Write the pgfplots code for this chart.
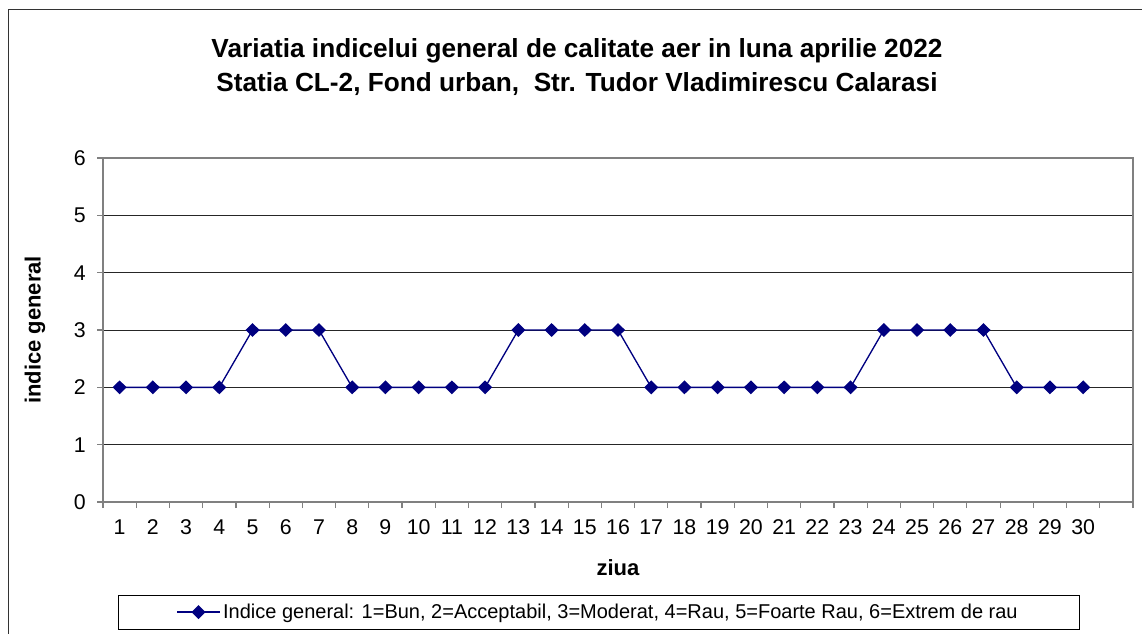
\documentclass[border=0pt]{standalone}
\usepackage{fontspec}
\setmainfont{Liberation Sans}
\usepackage{pgfplots}
\pgfplotsset{compat=1.18}
\definecolor{navyline}{HTML}{000080}
\definecolor{frameg}{HTML}{808080}

\begin{document}
\begin{tikzpicture}[x=0.75pt,y=-0.75pt]
% page = reference canvas, in px
\path[use as bounding box] (0,0) rectangle (1142,634);
\draw[black!80, line width=0.75pt] (1160,10) -- (8,10) -- (8,650);
\coordinate (orig) at (103,502);

\node[font=\bfseries\fontsize{19.65}{25}\selectfont, align=center] at (577,67)
  {Variatia indicelui general de calitate aer in luna aprilie 2022\\
   Statia CL-2, Fond urban,\ \ Str. Tudor Vladimirescu Calarasi};

\begin{axis}[
    at={(orig)}, anchor=south west,
    scale only axis,
    width=772.5pt, height=258pt,
    xmin=0.5, xmax=31.5,
    ymin=0, ymax=6,
    xtick={1,...,30},
    minor xtick={0.5,1.5,...,31.5},
    ytick={0,1,...,6},
    tick pos=left,
    major x tick style={draw=none},
    tick align=outside,
    major tick length=4.5pt,
    minor tick length=4.5pt,
    every tick/.style={frameg, line width=0.9pt},
    axis line style={frameg, line width=1.2pt},
    ymajorgrids=true,
    major grid style={black!85, line width=0.7pt},
    tick label style={font=\fontsize{16}{19}\selectfont},
    /pgf/number format/assume math mode=true,
    xticklabel style={yshift=-5pt},
    yticklabel style={xshift=-5pt},
    xlabel={ziua},
    ylabel={indice general},
    label style={font=\bfseries\fontsize{16.5}{19}\selectfont},
    xlabel style={at={(axis description cs:0.5,-0.192)}, anchor=center},
    ylabel style={at={(axis description cs:-0.066,0.5)}, anchor=center},
    legend style={at={(0.481,-0.320)}, anchor=center, draw=black,
        font=\fontsize{15}{18}\selectfont, inner xsep=44pt, inner ysep=4.5pt},
    legend image code/.code={
        \draw[#1, mark=none] (0pt,0pt) -- (32pt,0pt);
        \draw[#1, only marks] plot coordinates {(16pt,0pt)};
    },
    clip=false,
]
\addplot[navyline, line width=1pt, mark=diamond*,
         mark size=4.5pt, mark options={xscale=1.35, fill=navyline}]
  coordinates {
    (1,2) (2,2) (3,2) (4,2) (5,3) (6,3) (7,3) (8,2) (9,2) (10,2)
    (11,2) (12,2) (13,3) (14,3) (15,3) (16,3) (17,2) (18,2) (19,2) (20,2)
    (21,2) (22,2) (23,2) (24,3) (25,3) (26,3) (27,3) (28,2) (29,2) (30,2)
  };
\addlegendentry{Indice general: 1=Bun, 2=Acceptabil, 3=Moderat, 4=Rau, 5=Foarte Rau, 6=Extrem de rau}
\end{axis}
\end{tikzpicture}
\end{document}
